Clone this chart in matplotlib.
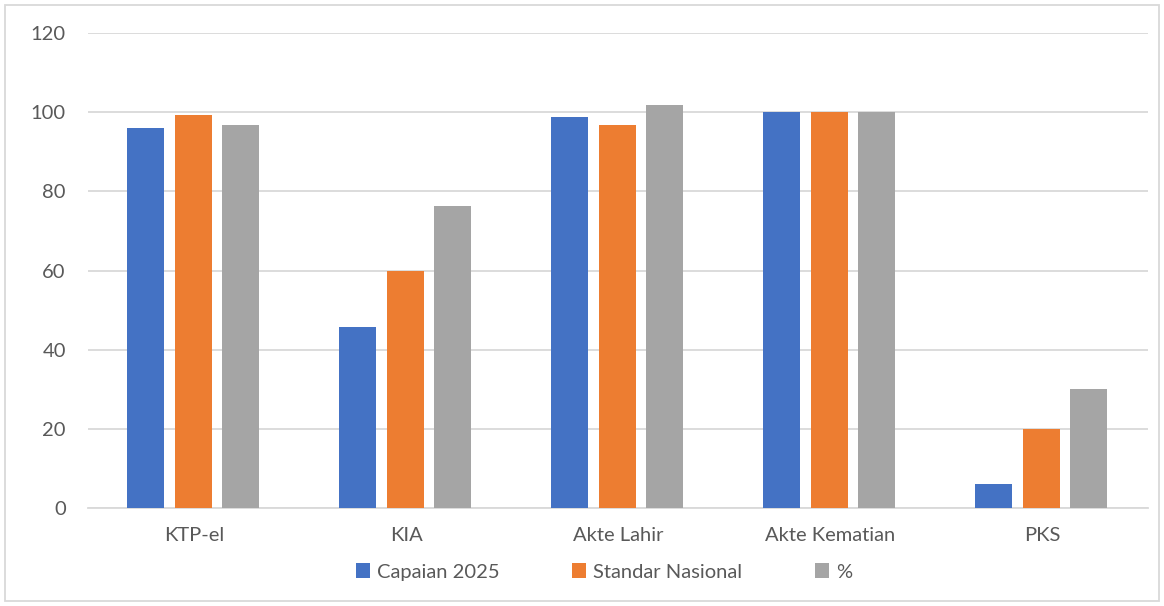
import matplotlib.pyplot as plt
from matplotlib.patches import Rectangle
import numpy as np

plt.rcParams['font.family'] = ['Lato', 'DejaVu Sans']

# data
categories = ['KTP-el', 'KIA', 'Akte Lahir', 'Akte Kematian', 'PKS']
capaian_2025 = [96.1, 45.8, 98.9, 100, 6.05]
standar_nasional = [99.3, 60, 96.8, 100, 20]
persen = [96.8, 76.3, 101.9, 100, 30]
series_names = ['Capaian 2025', 'Standar Nasional', '%']
colors = ['#4472C4', '#ED7D31', '#A5A5A5']
yticks = [0, 20, 40, 60, 80, 100, 120]

fig = plt.figure(figsize=(11.64, 6.06), dpi=100)
ax = fig.add_axes([88 / 1164, 1 - 508 / 606, (1148 - 88) / 1164, (508 - 33) / 606])

x = np.arange(len(categories))
width = 0.175
step = 0.223
for i, (vals, name, col) in enumerate(zip([capaian_2025, standar_nasional, persen], series_names, colors)):
    ax.bar(x + (i - 1) * step - 0.004, vals, width, color=col, label=name, zorder=3)

ax.set_xlim(-0.5, len(categories) - 0.5)
ax.set_ylim(0, 120)
ax.set_yticks(yticks)
ax.set_xticks(x)
ax.set_xticklabels(categories)
ax.grid(axis='y', color='#D9D9D9', linewidth=1.3, zorder=0)
ax.tick_params(axis='both', length=0, labelsize=14.5, labelcolor='#595959')
ax.tick_params(axis='x', pad=14)
ax.tick_params(axis='y', pad=16)
for s in ['top', 'right', 'left']:
    ax.spines[s].set_visible(False)
ax.spines['bottom'].set_color('#D9D9D9')
ax.spines['bottom'].set_linewidth(1.3)

leg = fig.legend(loc='center', bbox_to_anchor=(0.519, 1 - 572 / 606), ncol=3, frameon=False,
                 fontsize=14.5, handlelength=0.7, handleheight=0.7, columnspacing=3.6,
                 handletextpad=0.35)
for t in leg.get_texts():
    t.set_color('#595959')

fig.patches.append(Rectangle((5 / 1164, 5 / 606), 1154 / 1164, 596 / 606, transform=fig.transFigure,
                             fill=False, edgecolor='#D9D9D9', linewidth=1.3))

fig.savefig('out.png', dpi=100)
